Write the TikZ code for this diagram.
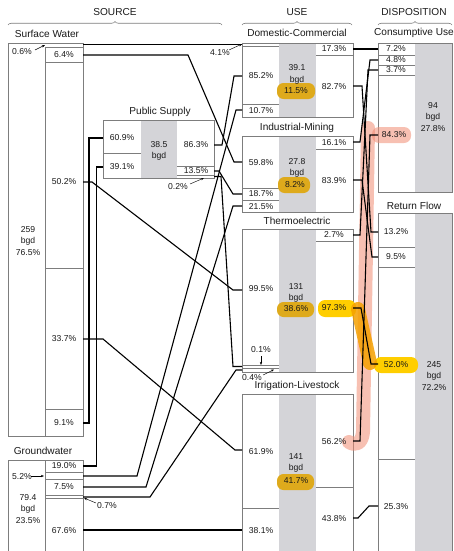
\documentclass[tikz,border=0pt]{standalone}
\usepackage{fontspec}
\setmainfont{Liberation Sans}
\usetikzlibrary{decorations.pathreplacing,arrows.meta}
\definecolor{boxgray}{RGB}{125,125,125}
\definecolor{colgray}{RGB}{212,212,216}
\definecolor{gold}{RGB}{222,170,28}
\definecolor{hiyellow}{RGB}{255,206,0}
\definecolor{hiorange}{RGB}{245,160,0}
\definecolor{hipink}{RGB}{240,140,115}
\definecolor{txt}{RGB}{25,25,25}
\tikzset{
  bx/.style={draw=boxgray, line width=0.8pt},
  gcol/.style={fill=colgray, draw=none},
  conn/.style={draw=black, line width=1.1pt},
  lab/.style={font=\fontsize{8.6}{11.3}\selectfont, text=txt, inner sep=0pt, align=center},
  ttl/.style={font=\fontsize{10.1}{12}\selectfont, text=txt, inner sep=0pt},
  pill/.style={fill=gold, rounded corners=6.5pt},
  ypill/.style={fill=hiyellow, rounded corners=7pt},
  brc/.style={decorate, decoration={brace, amplitude=3.5pt}, draw=boxgray, line width=0.6pt},
  arr/.style={-{Stealth[length=3.2pt,width=2.4pt]}, line width=0.45pt, draw=black},
}
\begin{document}
\begin{tikzpicture}[x=1pt,y=-1pt]
\useasboundingbox (0,0) rectangle (454,551);
\clip (0,0) rectangle (454,551);
% ---------- headers
\node[ttl] (hsrc) at (115,12) {SOURCE};
\node[ttl] (huse) at (297,12) {USE};
\node[ttl] (hdis) at (414,12) {DISPOSITION};
\draw[brc] (8,25) -- (222,25);
\draw[brc] (242,25) -- (352,25);
\draw[brc] (378,25) -- (452,25);
% ---------- gray columns
\fill[gcol] (141,120) rectangle (177,178);
\fill[gcol] (279,43) rectangle (316,117);
\fill[gcol] (279,136) rectangle (316,212);
\fill[gcol] (279,229) rectangle (316,372);
\fill[gcol] (279,394) rectangle (316,560);
\fill[gcol] (415,43) rectangle (452,192);
\fill[gcol] (415,213) rectangle (452,560);
% ---------- boxes
% surface water
\draw[bx] (8,43) rectangle (83,436);
\draw[bx] (45,47) -- (45,436);
\draw[bx] (45,47) -- (83,47) (45,62) -- (83,62) (45,268) -- (83,268) (45,409) -- (83,409);
% groundwater
\draw[bx] (8,460) rectangle (83,560);
\draw[bx] (45,460) -- (45,560);
\draw[bx] (45,472) -- (83,472) (45,479) -- (83,479) (45,495) -- (83,495) (45,498) -- (83,498);
% public supply
\draw[bx] (103,120) rectangle (214,178);
\draw[bx] (103,153) -- (141,153) (177,166) -- (214,166) (177,175) -- (214,175);
% domestic
\draw[bx] (242,43) rectangle (353,117);
\draw[bx] (242,46) -- (279,46) (242,104) -- (279,104) (316,55) -- (353,55);
% industrial
\draw[bx] (242,136) rectangle (353,212);
\draw[bx] (242,188) -- (279,188) (242,200) -- (279,200) (316,149) -- (353,149);
% thermoelectric
\draw[bx] (242,229) rectangle (353,372);
\draw[bx] (242,365) -- (279,365) (242,368) -- (279,368) (316,241) -- (353,241);
% irrigation
\draw[bx] (242,394) rectangle (353,560);
\draw[bx] (242,508) -- (279,508) (316,487) -- (353,487);
% consumptive
\draw[bx] (378,43) rectangle (452,192);
\draw[bx] (378,55) -- (415,55) (378,65) -- (415,65) (378,75) -- (415,75);
% return flow
\draw[bx] (378,213) rectangle (452,560);
\draw[bx] (378,247) -- (415,247) (378,267) -- (415,267) (378,459) -- (415,459);
% ---------- highlights
\fill[pill] (277,83) rectangle (315,99);
\fill[pill] (278,177) rectangle (310,193);
\fill[pill] (277,302) rectangle (314,317);
\fill[pill] (277,474) rectangle (314,490);
\draw[hipink, opacity=0.55, line width=14pt, line cap=round, line join=round]
  (368,128) -- (363,432) .. controls (362,444) and (355,446) .. (349,442);
\fill[hipink, opacity=0.55, rounded corners=7pt] (372,127) rectangle (411,143);
\fill[ypill] (318,300) rectangle (356,317);
\fill[ypill] (374,357) rectangle (418,373);
\draw[hiorange, opacity=0.85, line width=14pt, line cap=round] (358,309) -- (370,363);
% ---------- ports
\coordinate (sw06) at (83,44.5);
\coordinate (sw64) at (83,55);
\coordinate (sw502) at (83,182);
\coordinate (sw337) at (83,339);
\coordinate (sw91) at (83,423);
\coordinate (gw190) at (83,466);
\coordinate (gw52) at (83,476);
\coordinate (gw75) at (83,487);
\coordinate (gw07) at (83,497);
\coordinate (gw676) at (83,530);
\coordinate (psin609) at (103,138);
\coordinate (psin391) at (103,167);
\coordinate (ps863) at (214,145);
\coordinate (ps135) at (214,171);
\coordinate (ps02) at (214,176.5);
\coordinate (dc41) at (242,44.5);
\coordinate (dc852) at (242,76);
\coordinate (dc107) at (242,110);
\coordinate (im598) at (242,162);
\coordinate (im187) at (242,194);
\coordinate (im215) at (242,206);
\coordinate (te995) at (242,290);
\coordinate (te01) at (242,366.5);
\coordinate (te04) at (242,370);
\coordinate (il619) at (242,450);
\coordinate (il381) at (242,530);
\coordinate (dc173) at (353,49);
\coordinate (dc827) at (353,86);
\coordinate (im161) at (353,142);
\coordinate (im839) at (353,180);
\coordinate (te27) at (353,235);
\coordinate (te973) at (353,308);
\coordinate (il562) at (353,441);
\coordinate (il438) at (353,518);
\coordinate (cu72) at (378,49);
\coordinate (cu48) at (378,60);
\coordinate (cu37) at (378,70);
\coordinate (cu843) at (378,135);
\coordinate (rf132) at (378,232);
\coordinate (rf95) at (378,257);
\coordinate (rf520) at (378,364);
\coordinate (rf253) at (378,506);
% ---------- connectors
\draw[conn] (sw06) -- (dc41);
\draw[conn] (sw64) -- (188,55) -- (234,162) -- (im598);
\draw[conn] (sw502) -- (92,182) -- (233,290) -- (te995);
\draw[conn] (sw337) -- (103,339) -- (235,450) -- (il619);
\draw[conn] (sw91) -- (89,423) -- (89,138) -- (psin609);
\draw[conn] (gw190) -- (96.5,466) -- (96.5,167) -- (psin391);
\draw[conn] (gw52) -- (137,476) -- (236,110) -- (dc107);
\draw[conn] (gw75) -- (146,487) -- (233,206) -- (im215);
\draw[conn] (gw07) -- (150,497) -- (236,370) -- (te04);
\draw[conn] (gw676) -- (il381);
\draw[conn] (ps863) -- (222,145) -- (234,76) -- (dc852);
\draw[conn] (ps135) -- (219,171) -- (233,194) -- (im187);
\draw[conn] (ps02) -- (221,176.5) -- (233,366.5) -- (te01);
\draw[conn] (dc173) -- (cu72);
\draw[conn] (dc827) -- (362,86) -- (371,232) -- (rf132);
\draw[conn] (im161) -- (360,142) -- (370,60) -- (cu48);
\draw[conn] (im839) -- (362,180) -- (372,257) -- (rf95);
\draw[conn] (te27) -- (360,235) -- (368,70) -- (cu37);
\draw[conn] (te973) -- (361,308) -- (371,364) -- (rf520);
\draw[conn] (il562) -- (360,441) -- (370,135) -- (cu843);
\draw[conn] (il438) -- (358,518) -- (369,506) -- (rf253);
% ---------- titles
\node[ttl] (tsw) at (47,34) {Surface Water};
\node[ttl] (tgw) at (43,451) {Groundwater};
\node[ttl] (tps) at (160,112) {Public Supply};
\node[ttl] (tdc) at (297,33) {Domestic-Commercial};
\node[ttl] (tim) at (297,128) {Industrial-Mining};
\node[ttl] (tte) at (297,221) {Thermoelectric};
\node[ttl] (til) at (297,386) {Irrigation-Livestock};
\node[ttl] (tcu) at (414,33) {Consumptive Use};
\node[ttl] (trf) at (414,206) {Return Flow};
% ---------- labels: surface water
\node[lab] (l06) at (22,52) {0.6\%};
\node[lab] (l64) at (64,55) {6.4\%};
\node[lab] (l502) at (64,182) {50.2\%};
\node[lab] (l337) at (64,339) {33.7\%};
\node[lab] (l91) at (64,423) {9.1\%};
\node[lab] (lsw) at (28,241) {259\\bgd\\76.5\%};
% groundwater
\node[lab] (l190) at (64,466) {19.0\%};
\node[lab] (l52) at (22,477) {5.2\%};
\node[lab] (l75) at (64,487) {7.5\%};
\node[lab] (l07) at (107,506) {0.7\%};
\node[lab] (l676) at (64,531) {67.6\%};
\node[lab] (lgw) at (28,509) {79.4\\bgd\\23.5\%};
% public supply
\node[lab] (l609) at (122,138) {60.9\%};
\node[lab] (l391a) at (122,167) {39.1\%};
\node[lab] (lps) at (159,151) {38.5\\bgd};
\node[lab] (l863) at (196,145) {86.3\%};
\node[lab] (l135) at (196,171) {13.5\%};
\node[lab] (l02) at (178,187) {0.2\%};
% domestic
\node[lab] (l41) at (220,53) {4.1\%};
\node[lab] (l852) at (261,76) {85.2\%};
\node[lab] (l107) at (261,111) {10.7\%};
\node[lab] (ldc1) at (297,68) {39.1};
\node[lab] (ldc2) at (297,80) {bgd};
\node[lab] (ldc3) at (296,91) {11.5\%};
\node[lab] (l173) at (334,49) {17.3\%};
\node[lab] (l827) at (334,87) {82.7\%};
% industrial
\node[lab] (l598) at (261,163) {59.8\%};
\node[lab] (l187) at (261,194) {18.7\%};
\node[lab] (l215) at (261,207) {21.5\%};
\node[lab] (lim1) at (297,162) {27.8};
\node[lab] (lim2) at (297,173) {bgd};
\node[lab] (lim3) at (295,185) {8.2\%};
\node[lab] (l161) at (334,143) {16.1\%};
\node[lab] (l839) at (334,181) {83.9\%};
% thermoelectric
\node[lab] (l995) at (261,289) {99.5\%};
\node[lab] (l01) at (261,350) {0.1\%};
\node[lab] (l04) at (252,378) {0.4\%};
\node[lab] (lte1) at (296,287) {131};
\node[lab] (lte2) at (296,298) {bgd};
\node[lab] (lte3) at (296,309) {38.6\%};
\node[lab] (l27) at (334,235) {2.7\%};
\node[lab] (l973) at (334,308) {97.3\%};
% irrigation
\node[lab] (l619) at (261,452) {61.9\%};
\node[lab] (l381) at (261,531) {38.1\%};
\node[lab] (lil1) at (296,457) {141};
\node[lab] (lil2) at (296,468) {bgd};
\node[lab] (lil3) at (296,481) {41.7\%};
\node[lab] (l562) at (334,442) {56.2\%};
\node[lab] (l438) at (334,519) {43.8\%};
% consumptive
\node[lab] (l72) at (396,49) {7.2\%};
\node[lab] (l48) at (396,60) {4.8\%};
\node[lab] (l37) at (396,70) {3.7\%};
\node[lab] (l843) at (394,135) {84.3\%};
\node[lab] (lcu) at (433,117) {94\\bgd\\27.8\%};
% return flow
\node[lab] (l132) at (396,232) {13.2\%};
\node[lab] (l95) at (396,257) {9.5\%};
\node[lab] (l520) at (396,365) {52.0\%};
\node[lab] (l253) at (396,507) {25.3\%};
\node[lab] (lrf) at (434,376) {245\\bgd\\72.2\%};
% ---------- pointer arrows
\coordinate (a06) at (45,45);
\coordinate (a41) at (242,44);
\coordinate (a02) at (204,178);
\coordinate (a01) at (261,365);
\coordinate (a04) at (274,369.5);
\coordinate (a52) at (44,476);
\coordinate (a07) at (84,498);
\draw[arr] (35,50) -- (a06);
\draw[arr] (229,50) -- (a41);
\draw[arr] (190,184) -- (a02);
\draw[arr] (261,356) -- (a01);
\draw[arr] (263,375) -- (a04);
\draw[arr] (31,476) -- (a52);
\draw[arr] (96,503) -- (a07);
\end{tikzpicture}
\end{document}
